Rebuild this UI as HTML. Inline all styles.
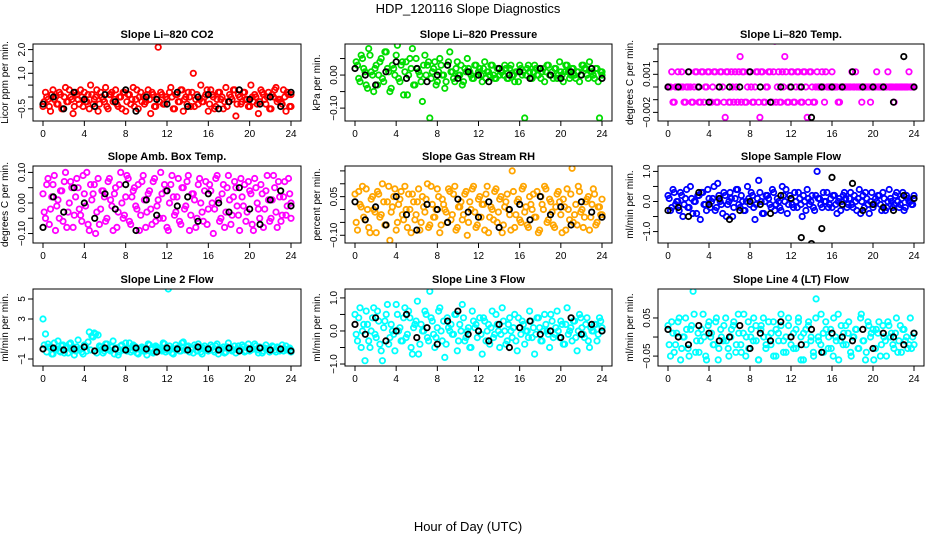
<!DOCTYPE html>
<html><head><meta charset="utf-8"><style>
body{margin:0;background:#fff}
svg{display:block;font-family:"Liberation Sans",Arial,sans-serif}
</style></head><body>
<svg id="chart" width="936" height="540" viewBox="0 0 936 540">
<text x="468" y="13" text-anchor="middle" font-size="13">HDP_120116  Slope Diagnostics</text>
<text x="468" y="531" text-anchor="middle" font-size="13">Hour of Day (UTC)</text>
</svg>
<script>
// ---- data (values per panel; colored = all samples, black = subset) ----
const co2Color = [-4,2,-1,-6,3,0,-3,1,-5,4,-2,0,-7,2,-1,3,-4,-2,1,5,-3,0,-6,2,-1,4,-5,1,-2,3,-4,0,2,-6,1,-3,4,-1,-5,2,0,-2,3,-7,1,-4,21,2,-3,0,-12,4,-5,1,-2,3,-6,0,2,-4,10,-1,-3,5,-2,1,-6,3,0,-4,2,-1,-5,4,-2,0,3,-8,1,-3,2,-1,-4,5,-2,0,-7,3,1,-3,2,-5,0,4,-1,-2,3,-6,1,-4];
const co2Color2 = [-2,0,-4,1,-1,-3,2,-5,0,-2,3,-1,-4,1,-3,0,2,-2,-5,1,-1,3,-3,0,-2,-4,1,2,-1,-3,0,-5,2,-2,1,-1,-4,3,0,-2,-3,1,-1,2,-4,0,-2,1,-3,-1,2,0,-5,1,-2,3,-1,-3,0,2,-4,1,-1,-2,0,3,-3,1,-5,-1,2,0,-2,-4,1,-1,3,-3,0,-2,2,-1,-4,0,1,-3,-2,2,-1,0,-5,1,3,-2,-1,-3,0,2,-4,1];
const co2Black = [-3,0,-5,2,-1,-4,1,-2,3,-6,0,-1,-3,2,-4,0,1,-5,-2,3,-1,-3,0,-4,2];
const presColor = [11,3,-2,5,1,-4,6,0,2,-3,4,-1,7,2,-5,3,0,9,-2,4,1,-6,5,8,-3,2,0,-8,6,3,-13,1,4,-2,5,0,-4,3,7,1,-2,4,0,-3,2,5,1,-1,3,0,2,-2,4,1,0,3,-1,2,0,1,3,-1,2,0,-2,1,3,0,-13,2,1,-1,3,0,2,1,-2,3,0,1,2,-1,4,0,1,3,-1,2,0,1,-2,3,2,0,4,1,-1,2,-13,1];
const presColor2 = [4,-1,6,2,-3,8,1,-5,3,0,5,-2,7,1,-4,2,6,-1,3,-6,4,0,2,-3,5,1,-2,3,0,4,-1,2,-3,1,3,0,-2,4,1,-1,2,0,3,-2,1,2,0,-1,3,1,0,2,-1,1,3,0,-1,2,1,0,2,-1,3,0,1,-2,2,1,0,3,-1,1,2,0,-1,2,1,3,0,-1,2,0,1,-2,3,1,0,2,-1,1,0,3,2,-1,1,0,2,-2,1,0];
const presBlack = [2,0,-3,1,4,-1,2,-2,0,3,-1,1,0,-2,2,0,1,-1,2,0,-1,1,0,2,-1];
const tempColor = [0,0,-1,0,1,0,0,-1,0,0,-1,1,0,-1,1,0,1,-1,0,1,-1,1,0,-2,1,-1,0,1,-1,2,1,-1,0,1,-1,0,1,-2,1,-1,0,1,-1,3,0,-1,1,2,-1,0,1,-1,1,0,-1,1,-2,1,0,-1,1,0,1,-1,0,0,1,0,0,-1,0,0,0,0,1,0,0,0,-1,0,0,0,0,0,1,0,0,0,0,0,0,-1,0,0,0,0,0,1,0,0];
const tempColor2 = [0,1,-1,0,0,1,-1,0,1,-1,0,1,-1,1,-1,0,1,-1,1,-1,0,1,-1,1,-1,1,-1,0,1,-1,1,-1,1,0,-1,1,-1,1,-1,0,1,-1,1,-1,1,-1,0,1,-1,1,-1,0,1,-1,1,0,-1,1,-1,0,0,0,0,1,0,0,0,0,-1,0,0,0,0,0,0,1,0,0,0,0,0,-1,0,0,0,0,0,0,1,0,0,0,0,0,0,0,0,0,0,0];
const tempBlack = [0,0,1,0,-1,0,0,0,1,0,-1,0,0,0,-2,0,0,0,1,0,0,0,-1,2,0];
const ambColor = [3,-5,8,-2,6,-9,1,4,-6,10,-3,7,-8,2,5,-4,9,-1,-7,6,3,-10,8,-2,4,-6,7,1,-9,5,-3,10,-5,2,8,-7,4,-1,6,-4,9,-8,3,-2,7,-6,1,10,-5,4,-9,6,2,-3,8,-7,5,-1,9,-4,3,-8,6,0,-6,7,-2,4,-10,8,1,-5,6,-3,9,-7,2,5,-4,8,-1,-6,7,3,-9,5,-2,6,-8,4,1,-5,9,-3,7,-6,2,-4,8,0];
const ambColor2 = [-3,6,-7,2,9,-1,-5,4,7,-8,0,5,-4,8,-2,-6,3,10,-9,1,6,-3,-7,4,2,-5,8,-1,3,-8,6,0,-4,9,-6,2,5,-2,-9,7,1,-3,4,-7,8,-1,-5,3,6,-8,0,9,-4,2,-6,5,-2,7,-9,3,1,-5,8,-3,4,-7,6,0,-2,9,-6,3,-8,5,1,-4,7,-1,-9,2,6,-3,4,-7,8,0,-5,3,-2,9,-6,1,5,-8,2,-4,7,-1,3,-5];
const ambBlack = [-8,2,-3,5,0,-5,3,-2,6,-9,1,-4,4,-1,2,-6,3,0,-3,5,-2,-7,1,4,-1];
const rhColor = [6,-8,2,9,-4,0,-9,5,-1,7,-3,10,-6,3,-12,1,8,-5,4,-2,9,-7,0,6,-4,3,-8,5,-1,10,-6,2,-3,8,-9,4,0,-5,7,-2,9,-7,1,-4,6,-10,3,8,-1,-6,5,2,-8,9,-3,0,7,-5,4,-9,1,6,-2,15,-7,3,-4,8,-1,-6,5,0,-3,7,-8,2,9,-5,4,-1,-7,6,3,-9,1,8,-4,16,-2,-6,7,0,-3,4,-8,2,6,-5,1,-2];
const rhColor2 = [-5,7,1,-3,8,-7,4,0,-9,6,-2,3,-6,9,-1,5,-8,2,7,-4,0,6,-9,3,-2,8,-5,1,4,-7,9,-3,0,5,-6,2,-1,8,-4,6,-8,1,3,-2,7,-5,0,9,-7,4,-3,2,6,-9,1,-4,8,-1,5,-6,3,0,-8,7,-2,4,-5,9,1,-7,2,6,-3,-9,5,0,8,-4,3,-6,1,7,-2,4,-8,0,6,-5,2,9,-1,-7,3,5,-3,8,-6,1,-2,4];
const rhBlack = [3,-4,1,-6,5,-2,-8,2,0,-5,4,-1,-3,3,-7,0,2,-4,5,-2,1,-6,3,-1,-3];
const sampColor = [2,-3,4,-1,0,3,-5,1,-2,5,-4,0,2,-6,3,-1,4,-2,1,-3,6,0,-4,2,-1,3,-5,1,4,-2,0,-3,5,-1,2,-6,1,3,-4,0,2,-1,4,-3,1,-2,5,0,-4,2,-1,3,-2,1,-5,0,4,-1,2,-3,10,1,-2,0,3,-1,-2,2,-4,1,0,3,-2,1,-1,2,-3,4,0,-2,1,-4,3,-1,0,2,-3,1,-2,4,0,-1,3,-2,1,-3,2,0,-1,1];
const sampColor2 = [1,-2,3,0,-3,2,-1,4,-2,1,0,-4,2,3,-1,-3,1,0,5,-2,2,-1,3,-5,0,1,-2,4,-1,2,-3,0,1,3,-2,-1,7,0,-4,2,1,-2,3,-1,0,-3,2,4,-1,1,-2,0,3,-1,2,-3,1,0,-2,2,1,-1,3,0,-2,1,2,-1,0,-3,2,1,-1,3,-2,0,1,-4,2,3,-1,0,-2,1,2,-1,3,-3,0,1,-2,2,0,-1,3,-2,1,0,-1,2];
const sampBlack = [-3,-2,-5,3,-1,1,-6,-3,0,-1,-4,2,1,-12,-14,-9,8,-1,6,-3,-1,-2,-3,2,1];
const line2Color = [30,15,5,2,-5,0,8,-3,4,1,-4,6,2,-2,9,0,-5,3,7,-1,12,15,14,2,-4,5,0,-2,8,1,-6,3,-1,6,0,-3,4,2,-5,1,-2,-2,5,0,-4,3,1,-1,6,-3,60,0,-5,4,1,-2,7,-1,3,0,-4,2,5,-3,1,0,-2,4,-1,3,-5,0,2,-3,6,1,-1,-4,3,0,2,-2,5,-1,0,3,-4,1,-2,4,0,-1,2,-3,1,0,-2,3,0,-1];
const line2Color2 = [4,-3,2,-5,6,0,-2,3,-4,1,5,-1,-6,2,0,-3,4,-2,17,13,16,-4,3,0,-2,5,-1,2,-5,1,-3,4,0,-2,6,-1,3,-4,0,2,-1,-6,4,1,-3,2,0,-2,5,-1,3,-4,0,1,-2,6,-1,2,-3,0,4,-2,1,-5,3,0,-1,2,-3,5,-1,0,-4,2,1,-2,3,0,-1,4,-3,1,-2,0,5,-1,2,-4,1,0,-3,3,-1,2,-2,4,0,-1,1,-3];
const line2Black = [0,1,-1,0,2,-2,1,0,-1,1,0,-3,1,0,-1,2,0,-1,1,-2,0,1,-1,0,-2];
const line3Color = [5,-3,7,0,-9,2,-5,4,-1,6,-4,-9,3,8,-2,0,-6,5,1,-3,7,-1,4,-7,2,9,-4,0,6,-2,12,3,-5,1,7,-3,-8,4,0,-1,5,-6,2,8,-3,0,-5,6,1,-2,4,-7,3,0,-4,6,-1,2,-5,7,0,-3,4,-2,5,-6,1,3,-4,0,6,-2,-7,4,1,-3,5,0,-5,3,-1,6,-2,2,-4,7,0,-3,3,-6,5,1,-2,4,-5,0,2,-3,4,1];
const line3Color2 = [-1,4,-5,2,6,-3,0,7,-2,3,-6,1,5,-4,2,-1,8,0,-3,4,-2,6,-5,1,3,-7,2,0,5,-3,4,-1,-2,6,0,3,-4,1,2,-1,5,-3,0,4,-2,1,-5,3,2,0,-1,4,-3,2,1,-2,5,0,-1,3,-4,2,0,1,-3,4,-1,2,0,-2,3,1,-1,4,-3,0,2,-1,5,-2,1,0,3,-4,2,-1,1,3,-2,0,4,-1,2,-3,1,0,2,-1,3,0];
const line3Black = [2,-1,4,-3,0,5,-2,1,-4,3,6,-1,0,-3,2,-5,1,3,-1,0,-2,4,-1,2,0];
const line4Color = [3,-5,1,-2,4,-6,0,5,-3,2,12,-4,1,-1,6,-5,3,0,-2,4,-6,2,-1,5,-3,0,3,-4,6,-2,1,-5,4,0,-1,3,-6,2,5,-3,0,-2,4,-5,1,6,-1,-4,3,0,-3,2,5,-6,1,-2,4,0,-5,10,-1,6,-4,2,0,-3,5,-1,-6,3,1,-2,4,-5,0,2,-3,6,-1,-4,3,1,-6,2,4,-2,0,-5,3,1,-3,5,-1,-4,2,0,-2,-3,1];
const line4Color2 = [-2,4,-4,1,5,-3,0,2,-5,3,6,-1,-4,2,0,-6,4,1,-2,5,-3,0,3,-1,-5,2,4,-2,1,-4,6,0,-3,2,5,-1,-6,3,0,-2,4,1,-5,2,-1,3,-4,0,5,-2,1,-3,4,0,-6,2,3,-1,-4,5,0,-2,1,4,-3,2,-5,0,6,-1,-2,3,1,-4,0,2,-3,5,-1,-6,4,0,2,-3,1,-5,3,-1,4,0,-2,1,-4,3,2,-1,-3,5,0,-2];
const line4Black = [2,0,-2,3,1,-1,0,3,-3,1,-1,4,0,-2,2,-4,1,0,-1,2,-3,1,0,-2,1];
const xTicks = [0,4,8,12,16,20,24];

// ---- layout ----
const colX = [[43,291],[355,602],[668,914]];
const rowY = [[44,121],[166,243],[289,366]];
const panels = [
 {name:'co2',title:'Slope Li\u2013820 CO2',yt:'Licor ppm per min.',c:co2Color,c2:co2Color2,b:co2Black,k:0.1,col:'#ff0000',yl:[-1.013,2.236],ticks:[-0.5,0,0.5,1,1.5,2],labs:{'-0.5':'\u22120.5','1':'1.0','2':'2.0'}},
 {name:'pressure',title:'Slope Li\u2013820 Pressure',yt:'kPa per min.',c:presColor,c2:presColor2,b:presBlack,k:0.01,col:'#00dd00',yl:[-0.139,0.094],ticks:[-0.1,-0.05,0,0.05],labs:{'-0.1':'\u22120.10','0':'0.00'}},
 {name:'temp',title:'Slope Li\u2013820 Temp.',yt:'degrees C per min.',c:tempColor,c2:tempColor2,b:tempBlack,k:0.0012,col:'#ff00ff',yl:[-0.00268,0.00339],ticks:[-0.002,-0.001,0,0.001,0.002,0.003],labs:{'-0.002':'\u22120.002','0.001':'0.001'}},
 {name:'amb-box-temp',title:'Slope Amb. Box Temp.',yt:'degrees C per min.',c:ambColor,c2:ambColor2,b:ambBlack,k:0.01,col:'#ff00ff',yl:[-0.131,0.121],ticks:[-0.1,-0.05,0,0.05,0.1],labs:{'-0.1':'\u22120.10','0':'0.00','0.1':'0.10'}},
 {name:'gas-rh',title:'Slope Gas Stream RH',yt:'percent per min.',c:rhColor,c2:rhColor2,b:rhBlack,k:0.01,col:'#ffa500',yl:[-0.13,0.169],ticks:[-0.1,-0.05,0,0.05,0.1,0.15],labs:{'-0.1':'\u22120.10','0.05':'0.05'}},
 {name:'sample-flow',title:'Slope Sample Flow',yt:'ml/min per min.',c:sampColor,c2:sampColor2,b:sampBlack,k:0.1,col:'#0000ff',yl:[-1.38,1.18],ticks:[-1,-0.5,0,0.5,1],labs:{'-1':'\u22121.0','0':'0.0','1':'1.0'}},
 {name:'line2-flow',title:'Slope Line 2 Flow',yt:'ml/min per min.',c:line2Color,c2:line2Color2,b:line2Black,k:0.1,col:'#00ffff',yl:[-1.7,6.0],ticks:[-1,1,3,5],labs:{'-1':'\u22121','1':'1','3':'3','5':'5'}},
 {name:'line3-flow',title:'Slope Line 3 Flow',yt:'ml/min per min.',c:line3Color,c2:line3Color2,b:line3Black,k:0.1,col:'#00ffff',yl:[-1.06,1.27],ticks:[-1,-0.5,0,0.5,1],labs:{'-1':'\u22121.0','0':'0.0','1':'1.0'}},
 {name:'line4-flow',title:'Slope Line 4 (LT) Flow',yt:'ml/min per min.',c:line4Color,c2:line4Color2,b:line4Black,k:0.01,col:'#00ffff',yl:[-0.076,0.126],ticks:[-0.05,0,0.05],labs:{'-0.05':'\u22120.05','0.05':'0.05'}}
];
const NS='http://www.w3.org/2000/svg';
const svg=document.getElementById('chart');
function mk(tag,attrs,parent){const e=document.createElementNS(NS,tag);for(const a in attrs)e.setAttribute(a,attrs[a]);(parent||svg).appendChild(e);return e;}
panels.forEach((p,i)=>{
  const [x0,x24]=colX[i%3];const [top,bot]=rowY[Math.floor(i/3)];
  const left=x0-10,right=x24+10;
  const xs=h=>x0+(x24-x0)*h/24;
  const ys=v=>bot-(v-p.yl[0])/(p.yl[1]-p.yl[0])*(bot-top);
  const g=mk('g',{});
  
  
  const t=mk('text',{x:(left+right)/2,y:top-6,'text-anchor':'middle','font-size':11,'font-weight':'bold'},g);
  t.textContent=p.title;
  
  
  const cp=mk('clipPath',{id:'cp'+i},g);mk('rect',{x:left,y:top,width:right-left,height:bot-top},cp);
  const pts=mk('g',{'clip-path':'url(#cp'+i+')'},g);
  [[p.c,p.col,'colored',0],[p.c2,p.col,'colored',0.12],[p.b,'#000','black',0]].forEach(([arr,col,nm,off])=>{
    arr.forEach((v,j)=>{
      const h=Math.min(24,j*24/(arr.length-1)+off);
      const c=mk('circle',{cx:xs(h).toFixed(1),cy:ys(v*p.k).toFixed(1),r:2.7,fill:'none',stroke:col,'stroke-width':1.8},pts);
      
      
    });
  });
  const box=mk('rect',{x:left,y:top,width:right-left,height:bot-top,fill:'none',stroke:'#000','stroke-width':1},g);
  
  
  const xa=mk('g',{},g);
  
  
  mk('line',{x1:xs(0),x2:xs(24),y1:bot,y2:bot,stroke:'#000'},xa);
  xTicks.forEach(h=>{
    mk('line',{x1:xs(h),x2:xs(h),y1:bot,y2:bot+5,stroke:'#000'},xa);
    const tl=mk('text',{x:xs(h),y:bot+16,'text-anchor':'middle','font-size':10},xa);tl.textContent=h;
  });
  const ya=mk('g',{},g);
  
  
  p.ticks.forEach(v=>{
    const y=ys(v);
    mk('line',{x1:left-5,x2:left,y1:y,y2:y,stroke:'#000'},ya);
    const key=String(v);
    if(p.labs[key]!==undefined){
      const tl=mk('text',{x:left-8,y:y,'text-anchor':'middle','font-size':10,transform:`rotate(-90 ${left-8} ${y})`},ya);
      tl.textContent=p.labs[key];
    }
  });
  const cy=(top+bot)/2;
  const yt=mk('text',{x:left-25,y:cy,'text-anchor':'middle','font-size':10,transform:`rotate(-90 ${left-25} ${cy})`},g);
  yt.textContent=p.yt;
  
  
});
</script>
</body></html>
